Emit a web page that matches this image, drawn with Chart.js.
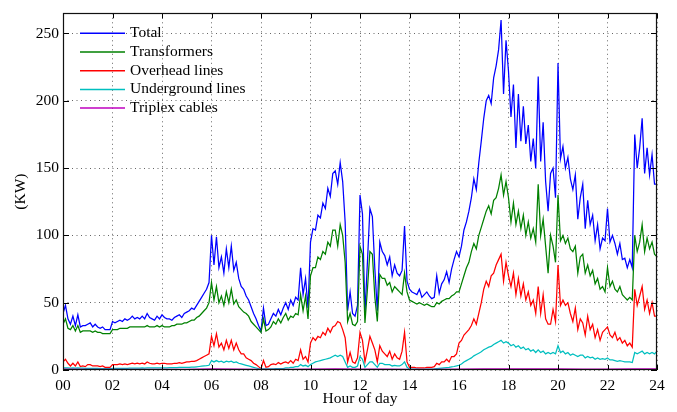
<!DOCTYPE html>
<html>
<head>
<meta charset="utf-8">
<script src="https://cdn.jsdelivr.net/npm/chart.js@4.4.1/dist/chart.umd.min.js"></script>
<style>
  html, body { margin: 0; padding: 0; background: #fff; }
  #wrap { width: 677px; height: 412px; }
</style>
</head>
<body>
<div id="wrap"><canvas id="c" width="677" height="412"></canvas></div>
<script>
// ---- data (kW), sampled every 0.1 hour from 00 to 24 ----
const seriesNames = ['Total', 'Transformers', 'Overhead lines', 'Underground lines', 'Triplex cables'];
const xTickLabels = ['00','02','04','06','08','10','12','14','16','18','20','22','24'];
const yTickValues = [0, 50, 100, 150, 200, 250];

const total = [
  42, 48, 38, 34, 40, 33, 41, 32, 33, 33,
  34, 35, 32, 34, 32, 31, 32, 30, 30, 30,
  36, 35, 36, 37, 36, 38, 37, 38, 40, 38,
  39, 38, 40, 38, 42, 39, 38, 37, 40, 38,
  41, 39, 38, 38, 37, 39, 40, 41, 39, 42,
  43, 44, 46, 45, 48, 51, 54, 57, 60, 65,
  100, 78, 99, 76, 84, 72, 90, 76, 92, 74,
  80, 68, 62, 60, 55, 52, 47, 42, 38, 33,
  29, 46, 33, 34, 38, 42, 40, 45, 41, 46,
  50, 45, 52, 48, 54, 52, 76, 56, 68, 46,
  95, 105, 104, 115, 113, 124, 120, 135, 129, 146,
  148, 138, 154, 140, 110, 44, 58, 42, 40, 48,
  130, 116, 42, 80, 120, 114, 75, 44, 95, 88,
  85, 78, 84, 70, 78, 72, 70, 74, 107, 66,
  60, 58, 57, 56, 60, 54, 56, 58, 55, 53,
  54, 70, 57, 64, 67, 73, 65, 75, 82, 88,
  84, 92, 104, 110, 118, 128, 142, 134, 154, 170,
  187, 200, 204, 198, 217, 226, 238, 260, 205, 245,
  222, 188, 212, 165, 205, 170, 196, 168, 182, 155,
  172, 150, 218, 155, 184, 140, 118, 146, 150, 128,
  228, 157, 166, 150, 158, 142, 134, 145, 112, 128,
  138, 105, 126, 108, 115, 96, 108, 90, 98, 96,
  120, 95, 100, 94, 86, 94, 82, 83, 76, 82,
  76, 175, 150, 165, 187, 146, 165, 145, 160, 138,
  138
];

const transformers = [
  34, 38, 31, 30, 33, 29, 33, 28, 29, 29,
  29, 29, 28, 29, 28, 28, 27, 27, 27, 27,
  30, 30, 30, 31, 31, 31, 31, 32, 32, 32,
  32, 32, 32, 32, 33, 32, 32, 32, 33, 32,
  33, 32, 32, 32, 33, 33, 34, 34, 34, 35,
  35, 36, 37, 37, 39, 40, 42, 44, 46, 50,
  65, 52, 62, 50, 55, 48, 58, 50, 60, 49,
  52, 47, 45, 43, 42, 40, 36, 34, 32, 30,
  28, 38, 29, 30, 32, 36, 34, 38, 35, 39,
  42, 37, 40, 39, 42, 41, 56, 44, 55, 38,
  70, 76, 76, 84, 82, 88, 86, 95, 92, 104,
  104, 92, 108, 100, 80, 36, 42, 34, 33, 36,
  92, 86, 35, 60, 88, 86, 54, 36, 71, 68,
  68, 63, 65, 58, 62, 60, 58, 56, 72, 58,
  52, 51, 50, 49, 50, 49, 48, 49, 48, 47,
  47, 50, 49, 51, 52, 53, 53, 55, 56, 58,
  58, 64, 70, 76, 80, 88, 94, 90, 100, 106,
  112, 118, 122, 116, 126, 128, 135, 145, 130, 140,
  128, 110, 124, 108, 118, 105, 115, 100, 110, 98,
  105, 95, 138, 100, 112, 92, 72, 100, 92, 80,
  130, 96, 100, 94, 98, 90, 88, 92, 72, 84,
  86, 72, 78, 70, 74, 64, 68, 60, 62, 58,
  76, 62, 66, 60, 58, 62, 56, 54, 52, 54,
  52, 100, 88, 95, 108, 88, 98, 90, 95, 86,
  84
];

const overhead = [
  6, 8, 5, 3, 5, 3, 6, 2.5, 3, 2.5,
  4, 4, 3, 3, 3, 2.5, 3, 2, 2, 2,
  4, 4, 4, 4.5, 4, 4.5, 4, 4.5, 5, 4.5,
  5, 4.5, 5, 4.5, 6, 5, 4.5, 4.5, 5, 4.5,
  5, 5, 4.5, 4.5, 4.5, 5, 5, 5.5, 5, 5.5,
  6, 6, 6.5, 6.5, 7, 8, 9, 10, 11, 12,
  25, 18, 27, 17, 20, 15, 22, 16, 22, 15,
  20, 15, 12, 12, 9, 8, 7, 5, 4, 2.5,
  1, 7, 2, 2.5, 4, 4.5, 4, 5.5, 4.5, 5.5,
  6, 5, 7, 5, 8, 7, 15, 8, 10, 6,
  20, 24, 22, 25, 24, 28, 26, 31, 28, 32,
  33, 36, 35, 30, 24, 6, 13, 6, 5, 9,
  28, 22, 6, 15, 25, 20, 15, 6, 18, 14,
  12, 10, 14, 8, 12, 9, 8, 14, 28, 6,
  2, 2, 2, 1.5, 1.5, 1.5, 1.5, 2, 2, 2,
  2.5, 5, 4, 6, 6, 8, 6, 10, 10, 12,
  20, 22, 26, 28, 30, 33, 38, 34, 42, 50,
  60, 66, 62, 70, 72, 78, 82, 86, 66, 80,
  70, 62, 72, 56, 68, 55, 64, 52, 58, 48,
  52, 42, 62, 42, 56, 38, 34, 34, 45, 36,
  78, 48, 52, 48, 50, 42, 36, 46, 30, 38,
  35, 26, 40, 30, 34, 24, 30, 22, 28, 30,
  32, 26, 24, 28, 22, 24, 20, 22, 18, 20,
  17, 60, 48, 55, 62, 45, 52, 42, 50, 40,
  40
];

const underground = [
  1.5, 1.6, 1.5, 1.4, 1.5, 1.4, 1.5, 1.4, 1.4, 1.3,
  1.3, 1.3, 1.2, 1.2, 1.2, 1.1, 1.1, 1.0, 1.0, 1.0,
  1.2, 1.2, 1.2, 1.3, 1.3, 1.3, 1.3, 1.4, 1.4, 1.4,
  1.4, 1.4, 1.5, 1.4, 1.5, 1.5, 1.5, 1.5, 1.6, 1.5,
  1.6, 1.6, 1.6, 1.7, 1.7, 1.8, 1.8, 1.9, 1.9, 2.0,
  2.0, 2.0, 2.2, 2.2, 2.4, 2.6, 2.8, 3.0, 3.2, 3.5,
  7, 6, 7, 6, 6.5, 5.5, 6.5, 6, 6.5, 5.5,
  6, 5, 4.5, 4, 3.5, 3, 2.5, 2, 1.5, 1,
  0.8, 0.9, 0.8, 0.8, 0.9, 0.9, 1, 1, 1, 1.1,
  1.5, 1.5, 2, 2, 2.5, 2.5, 4, 3, 3.5, 2.5,
  4, 5, 6, 6.5, 7, 7.5, 8, 8.5, 9, 10,
  11, 10, 11, 10, 6, 2, 3, 2, 2, 3,
  10, 8, 2, 4, 6, 6, 4, 2, 5, 5,
  4, 4, 4, 3, 3.5, 3, 3, 4, 6, 2,
  0.8, 0.7, 0.6, 0.6, 0.5, 0.5, 0.5, 0.6, 0.6, 0.7,
  0.8, 1, 1.2, 1.4, 1.6, 1.8, 2, 2.3, 2.6, 3,
  3.5, 4.5, 6, 7, 8, 9, 10.5, 11.5, 12.5, 13.5,
  15, 16, 17, 17.5, 19, 20, 21, 22, 20, 21,
  20, 18, 19, 17, 18, 16, 17, 15, 16, 14,
  15, 13, 15, 13, 14, 12, 13, 12, 13, 12,
  18, 13, 14, 12, 13, 11, 12, 11, 10, 11,
  11, 9, 10, 9, 9.5, 8, 9, 8, 8.5, 8,
  9, 7.5, 7.5, 7, 6.5, 7, 6.5, 6, 6, 6,
  5.5, 13, 12, 13, 14, 12, 13, 12, 13, 12,
  14
];

const triplexHours = [0,1,2,3,4,5,6,7,8,9,10,11,12,13,14,15,16,17,18,19,20,21,22,23,24];
const triplex = [0.6,0.5,0.5,0.5,0.5,0.5,0.8,0.6,0.4,0.5,0.7,0.8,0.7,0.6,0.4,0.5,0.7,0.9,0.9,0.8,0.8,0.7,0.6,0.8,0.9];

// sampling grid of the fine series (0.0, 0.1, ... 24.0 h)
const hours = total.map((_, i) => i / 10);

const colors = ['#0000ff', '#008000', '#ff0000', '#00bfbf', '#bf00bf'];
const FONT = 'Liberation Serif, "Times New Roman", serif';
const FSIZE = 15.5;

function pts(xs, ys) { return ys.map((y, i) => ({ x: xs[i], y })); }

const frameAndLegend = {
  id: 'frameAndLegend',
  afterDraw(chart) {
    const { ctx, chartArea: a, scales } = chart;
    ctx.save();
    // inner tick marks (MATLAB style, on all four sides)
    ctx.strokeStyle = '#000';
    ctx.lineWidth = 1;
    ctx.beginPath();
    scales.x.ticks.forEach(t => {
      const px = Math.round(scales.x.getPixelForValue(t.value)) + 0.5;
      ctx.moveTo(px, a.bottom); ctx.lineTo(px, a.bottom - 5);
      ctx.moveTo(px, a.top); ctx.lineTo(px, a.top + 5);
    });
    scales.y.ticks.forEach(t => {
      const py = Math.round(scales.y.getPixelForValue(t.value)) + 0.5;
      ctx.moveTo(a.left, py); ctx.lineTo(a.left + 6, py);
      ctx.moveTo(a.right, py); ctx.lineTo(a.right - 6, py);
    });
    ctx.stroke();
    // box
    ctx.lineWidth = 1.2;
    ctx.strokeStyle = '#111';
    ctx.strokeRect(Math.round(a.left) + 0.5, Math.round(a.top) + 0.5,
                   Math.round(a.right - a.left) - 1, Math.round(a.bottom - a.top) - 1);
    // legend
    ctx.font = FSIZE + 'px ' + FONT;
    ctx.textBaseline = 'middle';
    ctx.textAlign = 'left';
    const x0 = a.left + 17, x1 = a.left + 62, tx = a.left + 67;
    seriesNames.forEach((name, i) => {
      const y = a.top + 20 + i * 18.7;
      ctx.strokeStyle = colors[i];
      ctx.lineWidth = 1.5;
      ctx.beginPath(); ctx.moveTo(x0, y); ctx.lineTo(x1, y); ctx.stroke();
      ctx.fillStyle = '#000';
      ctx.fillText(name, tx, y);
    });
    ctx.restore();
  }
};

const gridColor = 'rgba(0,0,0,0.6)';

new Chart(document.getElementById('c'), {
  type: 'line',
  data: {
    datasets: [
      { label: seriesNames[0], data: pts(hours, total), borderColor: colors[0], order: 5 },
      { label: seriesNames[1], data: pts(hours, transformers), borderColor: colors[1], order: 4 },
      { label: seriesNames[2], data: pts(hours, overhead), borderColor: colors[2], order: 3 },
      { label: seriesNames[3], data: pts(hours, underground), borderColor: colors[3], order: 2 },
      { label: seriesNames[4], data: pts(triplexHours, triplex), borderColor: colors[4], order: 1 }
    ]
  },
  options: {
    responsive: false,
    animation: false,
    devicePixelRatio: 1,
    elements: {
      point: { radius: 0 },
      line: { borderWidth: 1.25, tension: 0, fill: false, borderJoinStyle: 'miter' }
    },
    layout: { padding: { left: 0, right: 20, top: 10, bottom: 0 } },
    plugins: { legend: { display: false }, tooltip: { enabled: false } },
    scales: {
      x: {
        type: 'linear', min: 0, max: 24,
        afterFit: s => { s.height = 42; },
        afterBuildTicks: s => { s.ticks = xTickLabels.map(l => ({ value: Number(l) })); },
        ticks: {
          stepSize: 2, autoSkip: false, maxRotation: 0, padding: 7, color: '#000',
          font: { family: FONT, size: FSIZE },
          callback: (v, i) => xTickLabels[i]
        },
        grid: { drawTicks: false, color: gridColor, lineWidth: 1 },
        border: { display: false, dash: [1, 3.5] },
        title: { display: true, text: 'Hour of day', color: '#000',
                 font: { family: FONT, size: FSIZE }, padding: { top: 0, bottom: 4 } }
      },
      y: {
        min: 0, max: 265,
        afterFit: s => { s.width = 63; },
        afterBuildTicks: s => { s.ticks = yTickValues.map(v => ({ value: v })); },
        ticks: {
          stepSize: 50, includeBounds: false, padding: 4, color: '#000',
          font: { family: FONT, size: FSIZE }
        },
        grid: { drawTicks: false, color: gridColor, lineWidth: 1 },
        border: { display: false, dash: [1, 3.5] },
        title: { display: true, text: '(KW)', color: '#000',
                 font: { family: FONT, size: FSIZE }, padding: { top: 12, bottom: 0 } }
      }
    }
  },
  plugins: [frameAndLegend]
});
</script>
</body>
</html>
